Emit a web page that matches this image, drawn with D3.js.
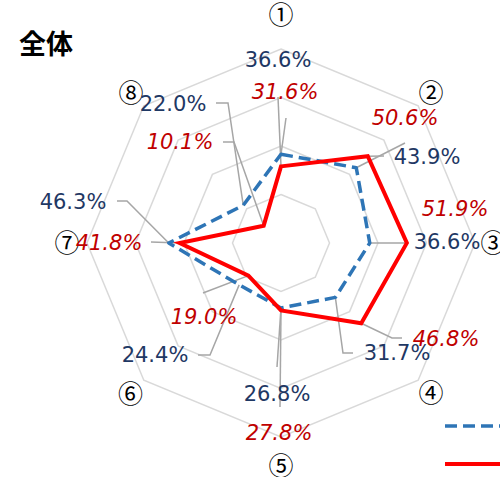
<!DOCTYPE html>
<html><head><meta charset="utf-8">
<script src="https://cdn.jsdelivr.net/npm/d3@7"></script>
<style>
html,body{margin:0;padding:0;background:#fff;overflow:hidden}
svg{display:block}
</style></head>
<body>
<svg id="c" width="500" height="477"></svg>
<script>
// ---- data ----
const categories = ["①","②","③","④","⑤","⑥","⑦","⑧"];
const seriesBlue = [36.6, 43.9, 36.6, 31.7, 26.8, 24.4, 46.3, 22.0];
const seriesRed  = [31.6, 50.6, 51.9, 46.8, 27.8, 19.0, 41.8, 10.1];
const ringTicks  = [20, 40, 60, 80];
const title = "全体";

// ---- layout (label placement, not data) ----
const cx = 281, cy = 243, R = 194;
const catLabelR = [228, 212, 212, 212, 223, 213, 214, 212];
const blueLabelPos = [[278,59],[427,156],[447,241],[397,352],[277,393],[155,354],[73,201],[173,103]];
const redLabelPos  = [[285,91],[405,117],[455,208],[446,338],[279,432],[204,316],[109,242],[180,141]];
const blueLeaders = [[[286,118]],[[405,143]],[[405,243]],[[353,353],[343,353]],[[277,367]],[[198,355],[210,355]],[[117,201],[127,201]],[[216,103],[228,103]]];
const redLeaders  = [[[278,97]],[[384,156]],[],[[402,338],[392,338]],[[280,407]],[[203,293]],[[151,242]],[[223,142],[234,142]]];

const svg = d3.select("#c");
const r = d3.scaleLinear().domain([0, 80]).range([0, R]);
const ang = d3.scaleLinear().domain([0, categories.length]).range([0, 2*Math.PI]);
const pt = (i, v) => [cx + r(v)*Math.sin(ang(i)), cy - r(v)*Math.cos(ang(i))];

// grid rings
const ringLine = d3.line();
ringTicks.forEach(t => {
  const pts = categories.map((c,i) => pt(i,t));
  svg.append("path").attr("d", ringLine(pts) + "Z")
    .attr("fill","none").attr("stroke","#d9d9d9").attr("stroke-width",1.5);
});

// category labels
categories.forEach((c,i) => {
  const x = cx + catLabelR[i]*Math.sin(ang(i)), y = cy - catLabelR[i]*Math.cos(ang(i));
  svg.append("text").attr("x",x).attr("y",y).attr("dy","0.36em")
    .attr("text-anchor","middle")
    .attr("font-family","'Noto Sans CJK JP', sans-serif").attr("font-size",25)
    .attr("fill","#000").text(c);
});

// leader lines
function leaders(vals, L) {
  vals.forEach((v,i) => {
    if (!L[i].length) return;
    const pts = L[i].concat([pt(i,v)]);
    svg.append("path").attr("d", d3.line()(pts))
      .attr("fill","none").attr("stroke","#a6a6a6").attr("stroke-width",1.5);
  });
}
leaders(seriesBlue, blueLeaders);
leaders(seriesRed, redLeaders);

// series lines
const closed = vals => d3.line()(vals.map((v,i) => pt(i,v))) + "Z";
svg.append("path").attr("d", closed(seriesBlue))
  .attr("fill","none").attr("stroke","#2e75b6").attr("stroke-width",3.5)
  .attr("stroke-dasharray","12,6").attr("stroke-linejoin","round");
svg.append("path").attr("d", closed(seriesRed))
  .attr("fill","none").attr("stroke","#ff0000").attr("stroke-width",4)
  .attr("stroke-linejoin","miter");

// value labels
function valueLabels(vals, pos, color, italic) {
  vals.forEach((v,i) => {
    svg.append("text").attr("x",pos[i][0]).attr("y",pos[i][1]).attr("dy","0.36em")
      .attr("text-anchor","middle")
      .attr("font-family","'DejaVu Sans', Verdana, sans-serif").attr("font-size",21)
      .attr("font-style", italic ? "italic" : "normal")
      .attr("fill",color).text(v.toFixed(1) + "%");
  });
}
valueLabels(seriesBlue, blueLabelPos, "#1f3864", false);
valueLabels(seriesRed, redLabelPos, "#c00000", true);

// title
svg.append("text").attr("x",19).attr("y",44).attr("dy","0.36em")
  .attr("font-family","'Noto Sans CJK JP', sans-serif").attr("font-weight","bold")
  .attr("font-size",27).attr("fill","#000").text(title);

// legend (lines only; text lies outside the visible area)
svg.append("line").attr("x1",445).attr("x2",520).attr("y1",426).attr("y2",426)
  .attr("stroke","#2e75b6").attr("stroke-width",3.5).attr("stroke-dasharray","12,6");
svg.append("line").attr("x1",445).attr("x2",520).attr("y1",464).attr("y2",464)
  .attr("stroke","#ff0000").attr("stroke-width",4);
</script>
</body></html>
